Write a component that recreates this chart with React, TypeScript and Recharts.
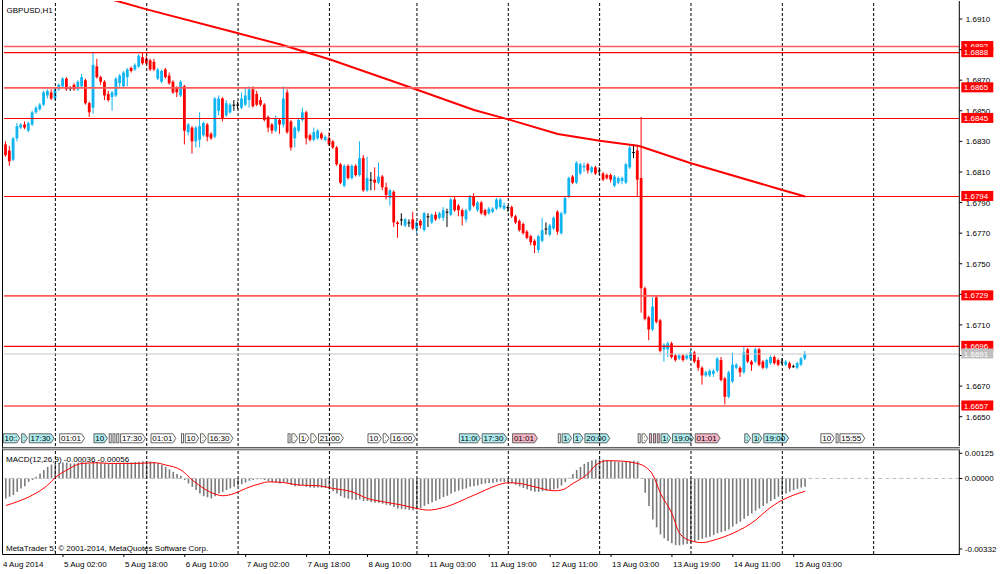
import React from 'react';
import { ComposedChart, Bar, Line, XAxis, YAxis, ReferenceLine, ReferenceArea } from 'recharts';

const FONT = '"Liberation Sans", Arial, Helvetica, sans-serif';
const BULL = '#10b4f0';
const BEAR = '#ff0000';
const DOJI = '#000000';

// bar index = hours since Mon 4 Aug 2014 00:00 (weekend gap removed); visible bars 11..221
const FIRST_BAR = 11;
const LAST_SLOT = 261;

const opens = [
  1.6828,1.6824,1.6818,1.6832,1.6839,1.6841,1.6837,1.6841,1.6849,1.6851,
  1.6854,1.6860,1.6862,1.6858,1.6864,1.6866,1.6871,1.6865,1.6867,1.6864,
  1.6866,1.6870,1.6855,1.6852,1.6879,1.6872,1.6869,1.6861,1.6859,1.6860,
  1.6868,1.6866,1.6872,1.6878,1.6877,1.6879,1.6885,1.6884,1.6883,1.6882,
  1.6871,1.6869,1.6877,1.6873,1.6869,1.6865,1.6860,1.6866,1.6836,1.6839,
  1.6830,1.6831,1.6834,1.6841,1.6835,1.6833,1.6850,1.6858,1.6847,1.6849,
  1.6854,1.6854,1.6852,1.6854,1.6857,1.6864,1.6861,1.6857,1.6854,1.6846,
  1.6841,1.6837,1.6844,1.6841,1.6862,1.6843,1.6832,1.6837,1.6844,1.6849,
  1.6834,1.6831,1.6832,1.6835,1.6831,1.6832,1.6830,1.6826,1.6815,1.6801,
  1.6814,1.6806,1.6814,1.6808,1.6819,1.6798,1.6805,1.6805,1.6803,1.6807,
  1.6800,1.6793,1.6797,1.6777,1.6779,1.6775,1.6777,1.6779,1.6773,1.6778,
  1.6772,1.6781,1.6777,1.6782,1.6780,1.6780,1.6784,1.6782,1.6792,1.6788,
  1.6785,1.6779,1.6785,1.6794,1.6785,1.6790,1.6785,1.6783,1.6784,1.6786,
  1.6787,1.6786,1.6787,1.6787,1.6781,1.6778,1.6776,1.6771,1.6768,1.6765,
  1.6759,1.6765,1.6773,1.6769,1.6773,1.6784,1.6770,1.6783,1.6794,1.6807,
  1.6803,1.6809,1.6813,1.6815,1.6810,1.6813,1.6811,1.6809,1.6808,1.6808,
  1.6801,1.6803,1.6804,1.6803,1.6813,1.6823,1.6824,1.6806,1.6734,1.6715,
  1.6707,1.6728,1.6713,1.6694,1.6694,1.6698,1.6690,1.6688,1.6690,1.6688,
  1.6688,1.6692,1.6687,1.6682,1.6677,1.6677,1.6678,1.6680,1.6687,1.6675,
  1.6663,1.6673,1.6682,1.6682,1.6679,1.6694,1.6686,1.6686,1.6694,1.6686,
  1.6682,1.6685,1.6689,1.6687,1.6686,1.6684,1.6685,1.6683,1.6682,1.6684,
  1.6688,
];
const highs = [
  1.6830,1.6827,1.6833,1.6842,1.6842,1.6843,1.6843,1.6850,1.6853,1.6855,
  1.6863,1.6864,1.6864,1.6865,1.6868,1.6872,1.6872,1.6866,1.6868,1.6870,
  1.6874,1.6871,1.6856,1.6888,1.6884,1.6873,1.6870,1.6863,1.6863,1.6872,
  1.6874,1.6876,1.6878,1.6879,1.6881,1.6887,1.6888,1.6886,1.6884,1.6884,
  1.6878,1.6877,1.6878,1.6875,1.6870,1.6866,1.6870,1.6867,1.6842,1.6840,
  1.6840,1.6849,1.6843,1.6842,1.6836,1.6859,1.6860,1.6859,1.6857,1.6855,
  1.6857,1.6856,1.6862,1.6865,1.6866,1.6866,1.6863,1.6859,1.6855,1.6847,
  1.6842,1.6847,1.6845,1.6866,1.6864,1.6844,1.6840,1.6845,1.6852,1.6850,
  1.6835,1.6839,1.6838,1.6836,1.6834,1.6836,1.6831,1.6827,1.6816,1.6815,
  1.6815,1.6815,1.6815,1.6830,1.6821,1.6820,1.6810,1.6813,1.6816,1.6808,
  1.6803,1.6799,1.6798,1.6778,1.6783,1.6780,1.6779,1.6784,1.6778,1.6779,
  1.6784,1.6783,1.6783,1.6784,1.6784,1.6787,1.6786,1.6793,1.6794,1.6789,
  1.6786,1.6786,1.6795,1.6796,1.6791,1.6791,1.6786,1.6787,1.6787,1.6793,
  1.6793,1.6790,1.6788,1.6788,1.6782,1.6779,1.6777,1.6772,1.6769,1.6766,
  1.6769,1.6780,1.6777,1.6776,1.6781,1.6785,1.6784,1.6794,1.6807,1.6808,
  1.6817,1.6816,1.6816,1.6816,1.6814,1.6814,1.6813,1.6810,1.6809,1.6809,
  1.6808,1.6807,1.6807,1.6816,1.6827,1.6828,1.6827,1.6846,1.6735,1.6716,
  1.6728,1.6729,1.6714,1.6698,1.6699,1.6699,1.6691,1.6691,1.6691,1.6691,
  1.6693,1.6693,1.6689,1.6683,1.6680,1.6681,1.6681,1.6689,1.6689,1.6676,
  1.6680,1.6692,1.6685,1.6683,1.6696,1.6695,1.6687,1.6695,1.6695,1.6687,
  1.6688,1.6690,1.6690,1.6688,1.6688,1.6687,1.6686,1.6684,1.6686,1.6689,
  1.6693,
];
const lows = [
  1.6820,1.6814,1.6817,1.6830,1.6838,1.6838,1.6836,1.6840,1.6848,1.6850,
  1.6853,1.6858,1.6857,1.6857,1.6863,1.6865,1.6863,1.6863,1.6863,1.6863,
  1.6865,1.6854,1.6846,1.6848,1.6871,1.6867,1.6857,1.6856,1.6850,1.6859,
  1.6865,1.6865,1.6866,1.6875,1.6876,1.6878,1.6880,1.6880,1.6876,1.6876,
  1.6870,1.6868,1.6871,1.6867,1.6861,1.6859,1.6859,1.6828,1.6834,1.6822,
  1.6826,1.6826,1.6833,1.6830,1.6831,1.6832,1.6847,1.6843,1.6846,1.6848,
  1.6850,1.6851,1.6851,1.6853,1.6852,1.6852,1.6853,1.6853,1.6843,1.6836,
  1.6835,1.6836,1.6835,1.6839,1.6835,1.6824,1.6826,1.6836,1.6843,1.6828,
  1.6830,1.6830,1.6831,1.6831,1.6830,1.6827,1.6825,1.6814,1.6802,1.6800,
  1.6805,1.6805,1.6807,1.6807,1.6797,1.6797,1.6798,1.6798,1.6802,1.6798,
  1.6792,1.6788,1.6774,1.6767,1.6775,1.6774,1.6774,1.6772,1.6770,1.6773,
  1.6771,1.6774,1.6776,1.6778,1.6779,1.6778,1.6774,1.6781,1.6784,1.6781,
  1.6775,1.6777,1.6784,1.6787,1.6784,1.6782,1.6781,1.6782,1.6783,1.6785,
  1.6786,1.6785,1.6784,1.6780,1.6776,1.6771,1.6769,1.6766,1.6762,1.6757,
  1.6757,1.6764,1.6769,1.6768,1.6772,1.6769,1.6769,1.6782,1.6793,1.6802,
  1.6802,1.6808,1.6810,1.6809,1.6809,1.6808,1.6808,1.6804,1.6805,1.6803,
  1.6800,1.6802,1.6802,1.6802,1.6812,1.6819,1.6794,1.6718,1.6713,1.6700,
  1.6706,1.6711,1.6692,1.6686,1.6689,1.6688,1.6686,1.6687,1.6686,1.6687,
  1.6687,1.6685,1.6680,1.6671,1.6676,1.6676,1.6676,1.6679,1.6673,1.6658,
  1.6662,1.6672,1.6681,1.6676,1.6678,1.6685,1.6680,1.6685,1.6683,1.6681,
  1.6681,1.6684,1.6684,1.6683,1.6684,1.6683,1.6681,1.6682,1.6681,1.6683,
  1.6687,
];
const closes = [
  1.6821,1.6817,1.6832,1.6840,1.6841,1.6839,1.6842,1.6849,1.6852,1.6854,
  1.6862,1.6863,1.6858,1.6864,1.6867,1.6871,1.6864,1.6865,1.6864,1.6869,
  1.6872,1.6855,1.6849,1.6880,1.6872,1.6869,1.6860,1.6857,1.6862,1.6871,
  1.6873,1.6875,1.6877,1.6876,1.6880,1.6886,1.6881,1.6881,1.6877,1.6877,
  1.6877,1.6876,1.6872,1.6868,1.6862,1.6862,1.6869,1.6837,1.6841,1.6830,
  1.6839,1.6840,1.6842,1.6833,1.6832,1.6858,1.6858,1.6845,1.6855,1.6854,
  1.6854,1.6854,1.6858,1.6860,1.6864,1.6853,1.6854,1.6854,1.6844,1.6839,
  1.6837,1.6845,1.6841,1.6858,1.6836,1.6826,1.6839,1.6844,1.6849,1.6832,
  1.6831,1.6836,1.6837,1.6832,1.6833,1.6828,1.6826,1.6815,1.6803,1.6814,
  1.6806,1.6814,1.6808,1.6819,1.6798,1.6806,1.6805,1.6803,1.6807,1.6800,
  1.6795,1.6798,1.6777,1.6776,1.6779,1.6779,1.6777,1.6773,1.6777,1.6775,
  1.6783,1.6781,1.6782,1.6779,1.6783,1.6785,1.6784,1.6792,1.6785,1.6785,
  1.6781,1.6785,1.6794,1.6788,1.6790,1.6783,1.6782,1.6786,1.6786,1.6792,
  1.6792,1.6788,1.6787,1.6781,1.6777,1.6772,1.6770,1.6767,1.6764,1.6762,
  1.6768,1.6772,1.6773,1.6775,1.6780,1.6771,1.6783,1.6793,1.6806,1.6803,
  1.6816,1.6815,1.6814,1.6811,1.6813,1.6809,1.6811,1.6805,1.6806,1.6805,
  1.6807,1.6806,1.6806,1.6815,1.6826,1.6823,1.6805,1.6734,1.6714,1.6707,
  1.6722,1.6712,1.6693,1.6697,1.6698,1.6689,1.6687,1.6690,1.6687,1.6690,
  1.6692,1.6686,1.6682,1.6677,1.6679,1.6680,1.6680,1.6688,1.6674,1.6663,
  1.6679,1.6684,1.6684,1.6679,1.6692,1.6686,1.6684,1.6694,1.6684,1.6682,
  1.6687,1.6689,1.6685,1.6684,1.6686,1.6686,1.6682,1.6683,1.6685,1.6688,
  1.6691,
];

// MACD(12,26,9) main value (drawn as histogram), bars 11..221
const macdHist = [
  -0.00088,-0.00080,-0.00073,-0.00059,-0.00044,-0.00034,-0.00015,-0.00007,0.00007,0.00022,
  0.00037,0.00051,0.00061,0.00066,0.00069,0.00070,0.00070,0.00066,0.00066,0.00069,
  0.00073,0.00069,0.00066,0.00073,0.00073,0.00069,0.00066,0.00063,0.00063,0.00066,
  0.00069,0.00069,0.00070,0.00070,0.00072,0.00073,0.00076,0.00076,0.00075,0.00072,
  0.00066,0.00059,0.00051,0.00040,0.00029,0.00019,0.00012,-0.00007,-0.00022,-0.00037,
  -0.00051,-0.00066,-0.00078,-0.00083,-0.00088,-0.00078,-0.00066,-0.00059,-0.00051,-0.00044,
  -0.00037,-0.00031,-0.00025,-0.00018,-0.00010,-0.00007,-0.00004,-0.00004,-0.00007,-0.00012,
  -0.00016,-0.00019,-0.00022,-0.00016,-0.00019,-0.00029,-0.00034,-0.00032,-0.00029,-0.00037,
  -0.00040,-0.00041,-0.00040,-0.00041,-0.00042,-0.00048,-0.00056,-0.00066,-0.00078,-0.00085,
  -0.00089,-0.00092,-0.00095,-0.00092,-0.00099,-0.00099,-0.00104,-0.00107,-0.00107,-0.00111,
  -0.00116,-0.00119,-0.00126,-0.00132,-0.00135,-0.00136,-0.00138,-0.00140,-0.00136,-0.00130,
  -0.00120,-0.00113,-0.00105,-0.00098,-0.00091,-0.00082,-0.00076,-0.00066,-0.00059,-0.00053,
  -0.00048,-0.00044,-0.00037,-0.00034,-0.00031,-0.00025,-0.00022,-0.00020,-0.00019,-0.00015,
  -0.00013,-0.00015,-0.00016,-0.00020,-0.00028,-0.00035,-0.00042,-0.00048,-0.00054,-0.00059,
  -0.00059,-0.00056,-0.00054,-0.00051,-0.00048,-0.00044,-0.00031,-0.00016,0.00003,0.00019,
  0.00037,0.00051,0.00064,0.00072,0.00079,0.00083,0.00085,0.00083,0.00080,0.00078,
  0.00075,0.00073,0.00072,0.00073,0.00076,0.00078,0.00075,0.00002,-0.00063,-0.00121,
  -0.00180,-0.00215,-0.00246,-0.00263,-0.00275,-0.00285,-0.00293,-0.00294,-0.00291,-0.00288,
  -0.00284,-0.00278,-0.00271,-0.00265,-0.00260,-0.00256,-0.00249,-0.00241,-0.00236,-0.00231,
  -0.00224,-0.00212,-0.00200,-0.00190,-0.00177,-0.00165,-0.00154,-0.00142,-0.00132,-0.00121,
  -0.00110,-0.00099,-0.00091,-0.00080,-0.00073,-0.00066,-0.00059,-0.00051,-0.00045,-0.00040,
  -0.00036,
];

// signal line, read at these bars
const signalBars = [11,14,18,22,24,27,31,35,38,45,50,53,57,60,63,66,68,71,74,78,80,84,88,93,97,102,106,110,115,119,122,125,128,132,137,140,143,146,150,155,157,160,164,166,169,173,176,179,181,183,186,188,191,194,197,202,208,211,215,218,221];
const signalValues = [-0.00119,-0.00102,-0.00073,-0.00029,0.00004,0.00037,0.00066,0.00069,0.00066,0.00066,0.00069,0.00059,0.00037,-0.00007,-0.00044,-0.00069,-0.00076,-0.00066,-0.00044,-0.00022,-0.00015,-0.00018,-0.00029,-0.00032,-0.00044,-0.00059,-0.00088,-0.00102,-0.00117,-0.00132,-0.00139,-0.00132,-0.00117,-0.00088,-0.00051,-0.00030,-0.00019,-0.00022,-0.00037,-0.00054,-0.00051,-0.00022,0.00022,0.00059,0.00078,0.00076,0.00069,0.00051,0.00015,-0.00066,-0.00154,-0.00241,-0.00274,-0.00282,-0.00271,-0.00241,-0.00183,-0.00139,-0.00095,-0.00073,-0.00056];

// red moving-average line, read at these bars (enters from above the top edge)
const maBars = [39,48,72,83,96,117,134,143,156,167,177,178,191,215,221];
const maValues = [1.69226,1.69163,1.69007,1.68935,1.68837,1.68655,1.68505,1.68444,1.68348,1.68304,1.68272,1.68265,1.68157,1.67982,1.67940];

// horizontal price levels
const levelValues = [1.6892, 1.6888, 1.6865, 1.6845, 1.6794, 1.6729, 1.6696, 1.6657];
const levelLight = [true, false, true, false, false, true, false, false];
const bidValue = 1.6691;

// price scale
const priceTicks = [1.6650,1.6670,1.6690,1.6710,1.6730,1.6750,1.6770,1.6790,1.6810,1.6830,1.6850,1.6870,1.6890,1.6910];
const hiddenTickText = [1.6890, 1.6690, 1.6730];
const priceTop = 1.692177;
const priceBottom = 1.663084;
// axis ticks: grid ticks first, then the price tags (drawn above them)
const axisTicks = [...priceTicks, ...levelValues, bidValue];

// MACD scale
const macdTop = 0.00125;
const macdBottom = -0.00332;
const macdTicks = [0.00125, 0, -0.00332];

// day separators (00:00 bars)
const dayBars = [24, 48, 72, 96, 119, 143, 167, 191, 215, 239];

// time axis
const timeTickBars = [11, 26, 42, 58, 74, 90, 106, 122, 138, 154, 170, 186, 202, 218];
const timeTickLabels = ['4 Aug 2014','5 Aug 02:00','5 Aug 18:00','6 Aug 10:00','7 Aug 02:00','7 Aug 18:00','8 Aug 10:00','11 Aug 03:00','11 Aug 19:00','12 Aug 11:00','13 Aug 03:00','13 Aug 19:00','14 Aug 11:00','15 Aug 03:00'];

// calendar event flags
const evBars = [10,15,17,25,34,38,39,40,41,49,57,58,62,64,85,86,88,91,93,106,110,112,130,136,144,156,157,160,163,177,178,180,181,182,183,186,192,205,207,210,225,229,230];
const evLabels = ['10:3','1','17:30','01:01','10:','','','','17:30','01:01','','10','1','16:30','','1','16','1','21:00','10:','1','16:00','11:00','17:30','01:01','','14','17','20:00','','1','','','','16','19:00','01:01','1','16','19:00','10:','','15:55'];
const evKinds = ['c','c','c','w','c','w','w','w','w','w','w','w','w','w','w','w','w','w','w','w','w','w','c','c','p','w','c','c','c','w','w','p','p','p','c','c','p','c','c','c','w','w','w'];
const KIND_FILL: Record<string, string> = { c: '#aeeef2', p: '#f6b6c6', w: '#ffffff' };

const rows: any[] = [];
for (let i = FIRST_BAR; i <= LAST_SLOT; i++) {
  const k = i - FIRST_BAR;
  const has = k < opens.length;
  const si = signalBars.indexOf(i);
  const mi = maBars.indexOf(i);
  rows.push({
    i,
    o: has ? opens[k] : null,
    h: has ? highs[k] : null,
    l: has ? lows[k] : null,
    c: has ? closes[k] : null,
    range: has ? [lows[k], highs[k]] : null,
    hist: has ? macdHist[k] : null,
    sig: si >= 0 ? signalValues[si] : null,
    ma: mi >= 0 ? maValues[mi] : null,
  });
}

const Candle = (props: any) => {
  const { x, width, payload } = props;
  let { y, height } = props;
  if (!payload || payload.o == null || height == null) return null;
  if (height < 0) { y += height; height = -height; }
  const { o, h, l, c } = payload;
  const k = height / (h - l);
  const py = (p: number) => y + (h - p) * k;
  const color = c > o ? BULL : c < o ? BEAR : DOJI;
  const cx = x + width / 2;
  const top = py(Math.max(o, c));
  const bot = py(Math.min(o, c));
  return (
    <g>
      <line x1={cx} x2={cx} y1={y} y2={y + height} stroke={color} strokeWidth={1} />
      <rect x={cx - 1.4} y={top} width={2.8} height={Math.max(1, bot - top)} fill={color} />
    </g>
  );
};

const near = (a: number, b: number) => Math.abs(a - b) < 1e-9;

const PriceTick = (props: any) => {
  const { x, y, payload } = props;
  const v = payload.value;
  if (near(v, bidValue) || levelValues.some((lv) => near(lv, v))) {
    const bg = near(v, bidValue) ? '#c0c0c0' : '#ff0000';
    return (
      <g>
        <rect x={x + 2} y={y - 5.5} width={32} height={10} fill={bg} />
        <text x={x + 4.5} y={y + 2.6} fontSize={8} fontFamily={FONT} fill="#fff">{v.toFixed(4)}</text>
      </g>
    );
  }
  const hide = hiddenTickText.some((hv) => near(hv, v));
  return (
    <g>
      <line x1={x} x2={x + 3} y1={y} y2={y} stroke="#000" />
      {!hide && (
        <text x={x + 6.5} y={y + 3} fontSize={8} fontFamily={FONT} fill="#000">{v.toFixed(4)}</text>
      )}
    </g>
  );
};

const MacdTick = (props: any) => {
  const { x, y, payload } = props;
  const v = payload.value;
  const dy = v === macdTop ? 3.3 : v === macdBottom ? -5 : 0;
  return (
    <g>
      <line x1={x} x2={x + 3} y1={y + dy} y2={y + dy} stroke="#000" />
      <text x={x + 5.5} y={y + dy + 3} fontSize={8} fontFamily={FONT} fill="#000">{v.toFixed(5)}</text>
    </g>
  );
};

const TimeTick = (props: any) => {
  const { x, y, payload } = props;
  const idx = timeTickBars.indexOf(payload.value);
  const label = idx >= 0 ? timeTickLabels[idx] : '';
  const first = idx === 0;
  return (
    <g>
      {!first && <line x1={x} x2={x} y1={y} y2={y + 3} stroke="#000" />}
      <text x={first ? x - 3 : x + 1} y={y + 12.5} fontSize={8} fontFamily={FONT} fill="#000">{label}</text>
    </g>
  );
};

function flagEnd(n: number) {
  const start = Math.max(FIRST_BAR, evBars[n]);
  const next = n + 1 < evBars.length ? evBars[n + 1] : LAST_SLOT + 1;
  return Math.max(start, Math.min(next - 1, start + 6));
}

const makeFlag = (n: number) => (p: any) => {
  const { x, y, width, height } = p;
  if (x == null || width == null) return null;
  const clamped = evBars[n] < FIRST_BAR;
  const x1 = Math.max(FIRST_BAR, evBars[n]);
  const x2 = flagEnd(n);
  const count = x2 - x1 + 1;
  const bw = width / count;
  const left = clamped ? x - 1.3 : x + bw / 2;
  const right = x + width + bw / 2 - 0.8;
  const w = right - left;
  const top = y + height - 12.7;
  const hh = 10;
  const fill = KIND_FILL[evKinds[n]];
  const stroke = '#555555';
  if (w < 6) {
    return <rect x={left + 0.5} y={top + 0.5} width={Math.max(1, w - 1)} height={hh - 1} fill={fill} stroke={stroke} strokeWidth={0.9} />;
  }
  const pts = `${left + 0.5},${top + 0.5} ${right - 3.5},${top + 0.5} ${right - 0.5},${top + hh / 2} ${right - 3.5},${top + hh - 0.5} ${left + 0.5},${top + hh - 0.5}`;
  return (
    <g>
      <polygon points={pts} fill={fill} stroke={stroke} strokeWidth={0.9} />
      <svg x={left + 1} y={top} width={Math.max(1, w - 4.5)} height={hh} overflow="hidden">
        <text x={0.8} y={7.9} fontSize={8} fontFamily={FONT} fill="#000">{evLabels[n]}</text>
      </svg>
    </g>
  );
};

export default function App() {
  return (
    <div style={{ position: 'absolute', left: 0, top: 0, width: 1000, height: 574, background: '#fff', overflow: 'hidden' }}>
      <div style={{ position: 'absolute', left: 0, top: 0 }}>
        <ComposedChart width={1000} height={448} data={rows} margin={{ top: 1, right: 0, bottom: 2, left: 4 }} barGap={0} barCategoryGap={0}>
          <XAxis dataKey="i" type="category" hide />
          <YAxis orientation="right" width={40.7} domain={[priceBottom, priceTop]} allowDataOverflow ticks={axisTicks} interval={0}
            tick={<PriceTick />} tickLine={false} tickSize={0} tickMargin={0} axisLine={{ stroke: '#000' }} />
          {dayBars.map((d) => (
            <ReferenceLine key={'d' + d} x={d} position="middle" stroke="#000" strokeDasharray="3 2" strokeWidth={1} />
          ))}
          <Bar dataKey="range" shape={<Candle />} barSize={3} isAnimationActive={false} />
          <Line dataKey="ma" stroke="#ff0000" strokeWidth={2} dot={false} connectNulls type="linear" isAnimationActive={false} />
          {levelValues.map((v, n) => (
            <ReferenceLine key={'l' + v} y={v} stroke={levelLight[n] ? '#ff5c5c' : '#ff0000'} strokeWidth={levelLight[n] ? 1.6 : 1.1} />
          ))}
          <ReferenceLine y={bidValue} stroke="#c8c8c8" strokeWidth={1.2} />
          {evBars.map((b, n) => (
            <ReferenceArea key={'e' + n} x1={Math.max(FIRST_BAR, b)} x2={flagEnd(n)} ifOverflow="visible" shape={makeFlag(n)} />
          ))}
        </ComposedChart>
      </div>
      <div style={{ position: 'absolute', left: 0, top: 448 }}>
        <ComposedChart width={1000} height={126} data={rows} margin={{ top: 2, right: 0, bottom: 0, left: 4 }} barGap={0} barCategoryGap={0}>
          <XAxis dataKey="i" type="category" height={20} ticks={timeTickBars} interval={0} tick={<TimeTick />} tickLine={false}
            axisLine={false} tickSize={0} tickMargin={0} />
          <YAxis orientation="right" width={40.7} domain={[macdBottom, macdTop]} allowDataOverflow ticks={macdTicks} interval={0}
            tick={<MacdTick />} tickLine={false} tickSize={0} tickMargin={0} axisLine={{ stroke: '#000' }} />
          <ReferenceLine y={0} stroke="#bdbdbd" strokeDasharray="4 3" />
          {dayBars.map((d) => (
            <ReferenceLine key={'m' + d} x={d} position="middle" stroke="#000" strokeDasharray="3 2" strokeWidth={1} />
          ))}
          <Bar dataKey="hist" fill="#7a7a7a" barSize={1.6} isAnimationActive={false} />
          <Line dataKey="sig" stroke="#ff0000" strokeWidth={1} dot={false} connectNulls type="monotone" isAnimationActive={false} />
        </ComposedChart>
      </div>
      <svg style={{ position: 'absolute', left: 0, top: 0, pointerEvents: 'none' }} width={1000} height={574}>
        <line x1={2.5} x2={2.5} y1={0} y2={554.5} stroke="#000" />
        <line x1={2.5} x2={960} y1={447.5} y2={447.5} stroke="#606060" />
        <rect x={2.5} y={448} width={957.5} height={1.6} fill="#bdbdbd" />
        <line x1={2.5} x2={960} y1={449.8} y2={449.8} stroke="#606060" />
        <line x1={2.5} x2={960} y1={554.5} y2={554.5} stroke="#000" />
        <text x={6.5} y={12.5} fontSize={8} fontFamily={FONT} fill="#000">GBPUSD,H1</text>
        <text x={6} y={461.5} fontSize={8} fontFamily={FONT} fill="#000">MACD(12,26,9) -0.00036 -0.00056</text>
        <text x={6} y={550.5} fontSize={8} fontFamily={FONT} fill="#000">MetaTrader 5, © 2001-2014, MetaQuotes Software Corp.</text>
      </svg>
    </div>
  );
}
